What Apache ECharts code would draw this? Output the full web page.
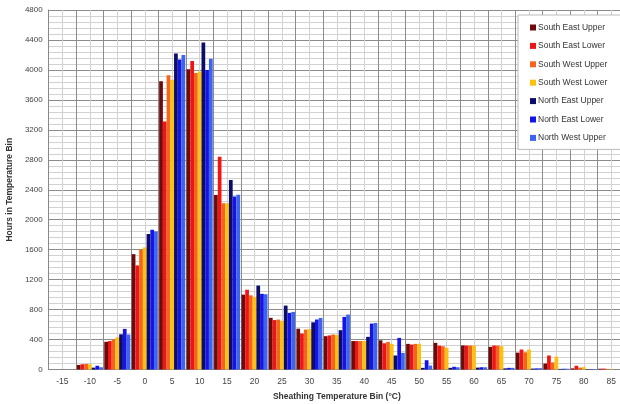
<!DOCTYPE html>
<html>
<head>
<meta charset="utf-8">
<script src="https://cdn.jsdelivr.net/npm/echarts@6/dist/echarts.min.js"></script>
<style>
html,body{margin:0;padding:0;background:#fff;}
#chart{width:620px;height:404px;}
</style>
</head>
<body>
<div id="chart"></div>
<script>
const categories = ['-15','-10','-5','0','5','10','15','20','25','30','35','40','45','50','55','60','65','70','75','80','85'];
const seriesNames = ['South East Upper','South East Lower','South West Upper','South West Lower','North East Upper','North East Lower','North West Upper'];
const southEastUpper = [0,60,370,1540,3850,4010,2330,1000,690,545,445,380,390,342,356,322,302,225,80,15,10];
const southEastLower = [0,70,380,1390,3310,4120,2840,1065,660,480,455,380,350,333,318,320,320,267,187,50,12];
const southWestUpper = [0,75,400,1600,3930,3960,2220,990,667,533,467,380,369,342,311,320,320,230,95,25,8];
const southWestLower = [0,70,430,1630,3870,3980,2220,970,650,540,460,380,342,342,290,320,311,267,172,31,5];
const northEastUpper = [0,25,470,1810,4220,4365,2530,1120,853,630,525,436,187,22,22,25,15,12,8,5,0];
const northEastLower = [0,50,542,1865,4140,4000,2310,1010,756,667,702,613,422,124,36,30,22,15,10,5,0];
const northWestUpper = [0,30,467,1845,4200,4150,2333,1005,769,689,733,622,222,53,30,30,22,18,10,5,0];
const colors = ['#6e0a0a','#f01414','#f5641e','#fcc010','#0c0c6a','#1414e6','#3c64f0'];
const allData = [southEastUpper,southEastLower,southWestUpper,southWestLower,northEastUpper,northEastLower,northWestUpper];

const font = 'Liberation Sans, Arial, sans-serif';
const chart = echarts.init(document.getElementById('chart'), null, {renderer:'canvas'});
chart.setOption({
  animation:false,
  color: colors,
  grid:{left:48.7, right:-5, top:10, bottom:34.5, containLabel:false, outerBoundsMode:'none'},
  legend:{
    orient:'vertical', left:518, top:15,
    backgroundColor:'#fff', borderColor:'#bbb', borderWidth:1,
    padding:[8,20,7,12],
    itemWidth:6, itemHeight:6, itemGap:9.4,
    icon:'rect',
    textStyle:{fontFamily:font, fontSize:8.5, color:'#333', padding:[0,0,0,-3]},
    data: seriesNames
  },
  xAxis:[{
    type:'category', data:categories, boundaryGap:true,
    axisLine:{show:true, lineStyle:{color:'#888'}},
    axisTick:{show:false},
    axisLabel:{fontFamily:font, fontSize:8.5, color:'#444', margin:8, interval:0},
    splitLine:{show:false},
    name:'Sheathing Temperature Bin (°C)', nameLocation:'middle', nameGap:23,
    nameTextStyle:{fontFamily:font, fontSize:8.5, fontWeight:'bold', color:'#333'}
  },{
    type:'value', min:0, max:42, interval:1,
    axisLine:{show:false}, axisTick:{show:false}, axisLabel:{show:false},
    splitLine:{show:true, lineStyle:{color:['#8c8c8c','#d2d2d2'], width:1}}
  }],
  yAxis:{
    type:'value', min:0, max:4800, interval:400,
    axisLine:{show:true, lineStyle:{color:'#888'}},
    axisTick:{show:false},
    axisLabel:{fontFamily:font, fontSize:8, color:'#444', margin:6, formatter:(v)=>String(v)},
    splitLine:{show:true, lineStyle:{color:'#8c8c8c'}},
    minorTick:{show:false, splitNumber:5},
    minorSplitLine:{show:true, lineStyle:{color:'#d2d2d2'}},
    name:'Hours in Temperature Bin', nameLocation:'middle', nameGap:34, nameRotate:90,
    nameTextStyle:{fontFamily:font, fontSize:8.5, fontWeight:'bold', color:'#333'}
  },
  series: seriesNames.map((n,i)=>({
    name:n, type:'bar', xAxisIndex:0, data:allData[i],
    barGap:'0%', barCategoryGap:'5%',
    itemStyle:{color:colors[i]}
  }))
});
</script>
</body>
</html>
